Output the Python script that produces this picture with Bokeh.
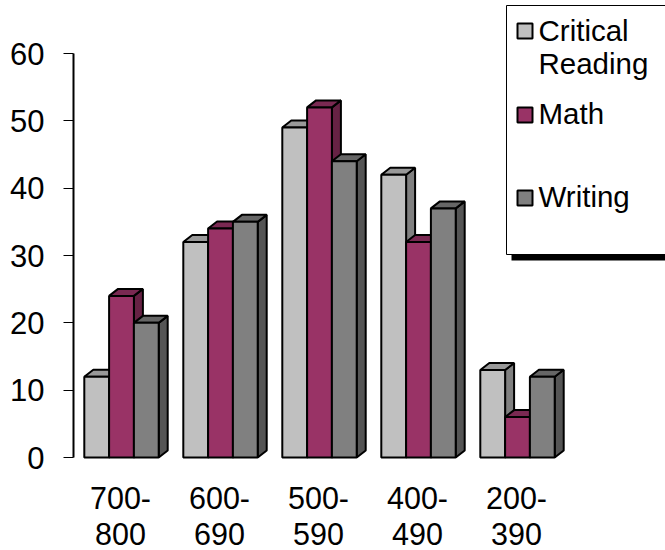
from bokeh.plotting import figure
from bokeh.models import Range1d, FixedTicker
from bokeh.core.properties import value
from bokeh.embed import file_html
from bokeh.resources import INLINE

categories = ["700-\n800", "600-\n690", "500-\n590", "400-\n490", "200-\n390"]
critical_reading = [12, 32, 49, 42, 13]
math_scores = [24, 34, 52, 32, 6]
writing = [20, 35, 44, 37, 12]
series_names = ["Critical\nReading", "Math", "Writing"]

FONT = "Liberation Sans"
FS = "29.5px"
PX_X0, PX_PER_GROUP = 121.0, 99.0      # px of group 0 centre, px per group
PX_Y0, PX_PER_UNIT = 457.0, 6.733      # px of value 0, px per value unit
BAR_W = 24.8 / PX_PER_GROUP
DX = 9.0 / PX_PER_GROUP
DY = 7.0 / PX_PER_UNIT

xp = lambda px: (px - PX_X0) / PX_PER_GROUP
yp = lambda py: (PX_Y0 - py) / PX_PER_UNIT

p = figure(width=665, height=550, output_backend="svg", toolbar_location=None,
           x_axis_location=None,
           x_range=Range1d(xp(73), xp(665)), y_range=Range1d(yp(550), yp(0)),
           min_border_left=73, min_border_right=0, min_border_top=0, min_border_bottom=0)
p.outline_line_color = None
p.grid.visible = False
p.background_fill_color = "white"

styles = [
    (critical_reading, "#C0C0C0", "#999999", "#808080", -1),
    (math_scores, "#993366", "#7A2952", "#662244", 0),
    (writing, "#808080", "#666666", "#555555", 1),
]
for vals, front, top, side, off in styles:
    l = [i + off * BAR_W - BAR_W / 2 for i in range(len(vals))]
    r = [a + BAR_W for a in l]
    p.patches([[b, b + DX, b + DX, b] for b in r],
              [[0, DY, v + DY, v] for v in vals],
              fill_color=side, line_color="black", line_width=2)
    p.patches([[a, a + DX, b + DX, b] for a, b in zip(l, r)],
              [[v, v + DY, v + DY, v] for v in vals],
              fill_color=top, line_color="black", line_width=2)
    p.quad(left=l, right=r, bottom=0, top=vals,
           fill_color=front, line_color="black", line_width=2)

# value axis
yax = p.yaxis[0]
yax.ticker = FixedTicker(ticks=[0, 10, 20, 30, 40, 50, 60])
yax.bounds = (0, 60)
yax.major_label_text_font = FONT
yax.major_label_text_font_size = "31px"
yax.major_label_text_color = "black"
yax.major_label_standoff = 19
yax.major_tick_in = 0
yax.major_tick_out = 10
yax.major_tick_line_color = "black"
yax.major_tick_line_width = 1
yax.minor_tick_line_color = None
yax.axis_line_color = "black"
yax.axis_line_width = 2

# category labels: text glyphs, since two-line tick labels need a tighter line height
p.text(x=list(range(len(categories))), y=[yp(480)] * len(categories), text=categories,
       x_offset=-1, text_font=value(FONT), text_font_size=value("30.5px"), text_color="black",
       text_align="center", text_baseline="top", text_line_height=1.07)

# legend panel drawn by hand to keep the reference's uneven spacing
p.quad(left=[xp(511)], right=[xp(670)], bottom=[yp(260)], top=[yp(250)],
       fill_color="black", line_color=None)
p.quad(left=[xp(506)], right=[xp(670)], bottom=[yp(254)], top=[yp(5)],
       fill_color="white", line_color="black", line_width=1)
swatch_tops = [23, 107, 190]
for (vals, front, *_), t in zip(styles, swatch_tops):
    p.quad(left=[xp(517)], right=[xp(532)], top=[yp(t)], bottom=[yp(t + 15)],
           fill_color=front, line_color="black", line_width=2)
p.text(x=[xp(538)] * 3, y=[yp(13), yp(96), yp(179)], text=series_names,
       text_font=value(FONT), text_font_size=value(FS), text_color="black",
       text_align="left", text_baseline="top", text_line_height=1.03)

open("out.html", "w").write(file_html(p, INLINE))
